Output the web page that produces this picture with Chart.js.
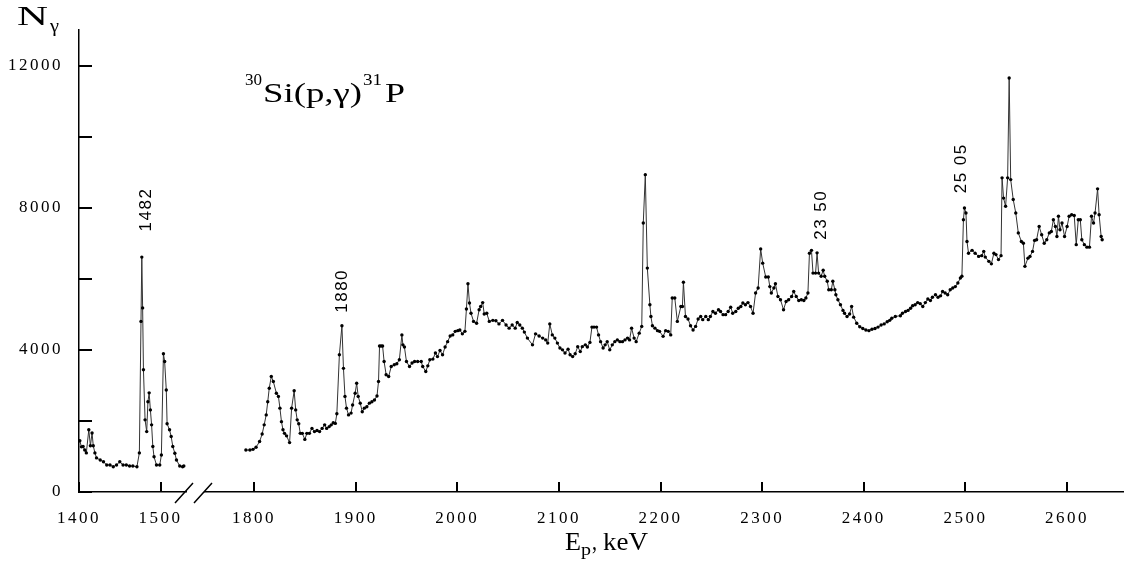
<!DOCTYPE html>
<html>
<head>
<meta charset="utf-8">
<script src="https://cdn.jsdelivr.net/npm/chart.js@4.4.1/dist/chart.umd.min.js"></script>
<style>
  html, body { margin: 0; padding: 0; background: #fff; }
  canvas { display: block; }
</style>
</head>
<body>
<canvas id="spectrum" width="1125" height="575"></canvas>
<script>
// proton energy (keV) and gamma counts, low-energy part before the axis break
const leftEnergy = [1401, 1403, 1405, 1407, 1409, 1412, 1414, 1416, 1417.5, 1419.5, 1421.5, 1426, 1430, 1434, 1438,
  1442, 1446, 1450, 1454, 1458, 1462, 1466, 1471, 1474, 1476, 1477, 1478, 1479, 1481, 1483, 1484.5, 1486, 1487.5,
  1489, 1490.5, 1492, 1495, 1499, 1501, 1503.5, 1505, 1507, 1508, 1511, 1513, 1515, 1517.5, 1519.5, 1523.5, 1527, 1528.5];
const leftCounts = [1440, 1270, 1280, 1180, 1100, 1750, 1300, 1660, 1300, 1100, 960, 900, 850, 760, 760,
  710, 760, 850, 760, 760, 730, 730, 710, 1100, 4800, 6610, 5180, 3440, 2030, 1700, 2540, 2790, 2310,
  1890, 1280, 990, 760, 760, 1040, 3890, 3670, 2870, 1920, 1750, 1560, 1280, 1090, 900, 730, 710, 730];

// high-energy part after the break
const rightEnergy = [1792, 1796, 1799, 1802, 1805.5, 1808, 1810, 1812, 1813.5, 1815, 1817, 1819, 1822, 1824, 1825.5,
  1827, 1828.5, 1830, 1832, 1835, 1837, 1839.5, 1841, 1842.5, 1844, 1845.5, 1847.5, 1850, 1852, 1854.5, 1857,
  1859.5, 1862, 1864.5, 1867, 1869.5, 1871.5, 1874, 1876, 1878, 1880, 1881.5, 1884, 1886.5, 1888, 1889.5, 1891,
  1893, 1895.5, 1897, 1899.5, 1901, 1902.5, 1904.5, 1906.5, 1908.5, 1911, 1913.5, 1916, 1918.5, 1921, 1922.5,
  1923.5, 1925, 1926.5, 1928, 1930, 1932.5, 1935, 1938, 1940.5, 1943, 1945.5, 1946.5, 1948, 1950, 1953, 1955.5,
  1958, 1961, 1964.5, 1966, 1969, 1971, 1973, 1976, 1978.5, 1980.5, 1983, 1985.5, 1988, 1990.5, 1993, 1995.5,
  1998, 2000.5, 2002.5, 2005, 2007.5, 2009, 2010.5, 2012, 2013.5, 2016, 2019, 2021.5, 2023, 2025, 2026.5, 2029,
  2031.5, 2035, 2038, 2041, 2044.5, 2048, 2051, 2054, 2057, 2059, 2061.5, 2064, 2066, 2069, 2074, 2077, 2080.5,
  2084, 2087, 2089, 2091, 2093.5, 2096, 2098.5, 2101, 2103.5, 2106, 2109, 2111, 2113.5, 2116, 2118.5, 2121, 2123,
  2126, 2128, 2130.5, 2132.5, 2134.5, 2137, 2139, 2141, 2143.5, 2145.5, 2147.5, 2150, 2152.5, 2155, 2157.5, 2160,
  2162.5, 2165, 2167.5, 2169.5, 2171.5, 2174, 2176, 2179, 2181.5, 2183, 2185, 2187, 2189.5, 2190.5, 2192, 2194.5,
  2197, 2199, 2202.5, 2205, 2207.5, 2210, 2211.5, 2214, 2216.5, 2220, 2221.5, 2222.5, 2224.5, 2227, 2229.5, 2232,
  2234.5, 2237, 2239.5, 2241.5, 2244.5, 2247, 2249, 2251.5, 2254, 2257, 2259, 2261.5, 2264, 2266.5, 2269, 2271,
  2274, 2276.5, 2279, 2281, 2283.5, 2286, 2288.5, 2291, 2293.5, 2296, 2298.5, 2300.5, 2303.5, 2306, 2307.5, 2309,
  2311.5, 2313, 2315.5, 2318, 2321, 2323.5, 2326, 2329, 2331, 2333.5, 2336, 2338.5, 2341, 2343, 2345, 2346.5,
  2348.5, 2350, 2352.5, 2354, 2355.5, 2358, 2360, 2361.5, 2364, 2365.5, 2368, 2369.5, 2371.5, 2372.5, 2374.5, 2377,
  2379.5, 2381, 2383.5, 2386, 2388, 2390, 2393, 2396, 2399, 2402, 2405, 2408, 2411, 2414, 2417, 2420, 2423, 2425.5,
  2427.5, 2431, 2436, 2438, 2441, 2443.5, 2446, 2448, 2450.5, 2453, 2455.5, 2458, 2460.5, 2463, 2465.5, 2467.5,
  2470.5, 2473, 2475.5, 2477.5, 2480, 2482.5, 2485, 2487.5, 2490, 2492.5, 2495, 2496.5, 2498, 2499, 2500.5,
  2501.5, 2503, 2506.5, 2509.5, 2513, 2516, 2518, 2519.5, 2523, 2525.5, 2528, 2530, 2532.5, 2535, 2536, 2537.5,
  2539.5, 2541.5, 2543, 2544.5, 2547, 2549.5, 2552, 2555, 2557, 2558.5, 2561.5, 2563.5, 2566, 2568, 2570, 2572.5,
  2575, 2577.5, 2580, 2582.5, 2584.5, 2586.5, 2588.5, 2590, 2591.5, 2593, 2595, 2597.5, 2600, 2602, 2604.5, 2607,
  2609, 2611, 2613, 2614.5, 2617, 2619.5, 2622, 2624, 2626, 2627.5, 2630, 2631.5, 2633.5, 2634.5];
const rightCounts = [1180, 1180, 1200, 1260, 1420, 1630, 1890, 2170, 2540, 2920, 3250, 3110, 2780, 2690, 2360,
  1980, 1750, 1650, 1580, 1390, 2360, 2850, 2310, 2030, 1920, 1650, 1650, 1480, 1650, 1650, 1790,
  1700, 1730, 1700, 1790, 1890, 1790, 1840, 1890, 1950, 1930, 2200, 3860, 4680, 3480, 2690, 2360,
  2170, 2220, 2450, 2780, 3060, 2690, 2500, 2260, 2360, 2400, 2500, 2540, 2590, 2700, 3110,
  4110, 4110, 4110, 3670, 3300, 3250, 3530, 3580, 3610, 3720, 4420, 4140, 4080, 3670, 3530, 3630,
  3670, 3670, 3670, 3530, 3390, 3550, 3720, 3740, 3910, 3810, 3980, 3860, 4080, 4230, 4390, 4420,
  4520, 4540, 4560, 4450, 4520, 5150, 5860, 5320, 5030, 4800, 4750, 5130, 5220, 5330, 5010, 5030,
  4800, 4830, 4820, 4730, 4830, 4700, 4610, 4700, 4610, 4770, 4700, 4610, 4500, 4330, 4140, 4450, 4390,
  4330, 4280, 4190, 4730, 4420, 4330, 4190, 4050, 4000, 3910, 4020, 3860, 3810, 3890, 4090, 3950, 4090,
  4140, 4080, 4210, 4640, 4640, 4640, 4420, 4230, 4050, 4140, 4230, 4000, 4140, 4230, 4280, 4230,
  4230, 4280, 4330, 4280, 4610, 4330, 4230, 4470, 4660, 7570, 8930, 6300, 5270, 4940, 4680, 4610,
  4540, 4520, 4380, 4540, 4520, 4420, 5460, 5460, 4800, 5220, 5220, 5900, 4940, 4870, 4680, 4560,
  4660, 4870, 4940, 4850, 4940, 4850, 4940, 5080, 5030, 5130, 5080, 4990, 4990, 5080, 5200, 5030,
  5080, 5170, 5220, 5320, 5270, 5330, 5220, 5030, 5600, 5740, 6840, 6440, 6050, 6050, 5780, 5600,
  5740, 5860, 5500, 5410, 5130, 5360, 5410, 5500, 5640, 5500, 5390, 5410, 5390, 5460, 5600, 6720,
  6800, 6160, 6160, 6730, 6160, 6070, 6240, 6070, 5930, 5690, 5690, 5930, 5690, 5550, 5410, 5270,
  5110, 5030, 4940, 5010, 5220, 4920, 4750, 4650, 4600, 4560, 4540, 4580, 4600, 4640, 4700, 4730, 4790, 4830,
  4890, 4940, 4960, 5030, 5080, 5110, 5170, 5240, 5270, 5330, 5300, 5220, 5330, 5430, 5390, 5480,
  5550, 5480, 5520, 5640, 5600, 5550, 5690, 5740, 5780, 5880, 6020, 6070, 7660, 7990, 7850,
  7050, 6720, 6800, 6720, 6630, 6650, 6770, 6610, 6490, 6420, 6720, 6680, 6540, 6650, 8840, 8270,
  8040, 8840, 11650, 8790, 8230, 7850, 7290, 7050, 7000, 6350, 6580, 6630, 6770, 7080, 7100, 7470,
  7240, 7000, 7100, 7290, 7330, 7660, 7470, 7190, 7760, 7380, 7570, 7190, 7470, 7760, 7800, 7780,
  6960, 7660, 7660, 7100, 6960, 6890, 6890, 7760, 7570, 7850, 8530, 7800, 7190, 7100];

const xTickValues = [1400, 1500, 1800, 1900, 2000, 2100, 2200, 2300, 2400, 2500, 2600];
const yTickValues = [0, 2000, 4000, 6000, 8000, 10000, 12000];
const yLabelStep = 4000;

// resonance labels: text, energy, count level of the label centre
const peakNames = ['1482', '1880', '23 50', '25 05'];
const peakEnergy = [1482, 1887, 2358, 2496];
const peakLevel = [7950, 5660, 7800, 9110];

// the energy axis is broken: the part below 1600 keV is compressed and shifted left
const BREAK_AT = 1600;
function axisPos(e) {
  return e < BREAK_AT ? 1627.8 + (e - 1400) * 0.8026 : e;
}

const SERIF = '"Liberation Serif", "Times New Roman", serif';
const SANS = '"Liberation Sans", Arial, sans-serif';

function toPoints(xs, ys) {
  return xs.map((e, i) => ({ x: axisPos(e), y: ys[i] }));
}

const lineStyle = {
  borderColor: '#333',
  borderWidth: 1,
  pointRadius: 1.7,
  pointBackgroundColor: '#000',
  pointBorderWidth: 0,
  pointHoverRadius: 1.7,
  tension: 0,
  fill: false,
};

// draws text squeezed or stretched to a given width
function fitText(ctx, text, x, y, font, width) {
  ctx.save();
  ctx.font = font;
  const w = ctx.measureText(text).width;
  ctx.translate(x, y);
  ctx.scale(width / w, 1);
  ctx.fillText(text, 0, 0);
  ctx.restore();
}

const decorations = {
  id: 'decorations',
  beforeDraw(chart) {
    chart.ctx.letterSpacing = '2.5px';
  },
  afterDraw(chart) {
    const ctx = chart.ctx;
    const xs = chart.scales.x;
    const ys = chart.scales.y;
    const area = chart.chartArea;
    ctx.save();
    ctx.letterSpacing = '0px';
    ctx.fillStyle = '#000';

    // inward tick marks
    xTickValues.forEach((e) => {
      const px = Math.round(xs.getPixelForValue(axisPos(e)));
      ctx.fillRect(px - 1, area.bottom - 10, 2, 10);
    });
    yTickValues.forEach((v) => {
      const py = Math.round(ys.getPixelForValue(v));
      ctx.fillRect(area.left, py - 1, 13, 2);
    });

    // axis break
    ctx.fillStyle = '#fff';
    ctx.fillRect(187, area.bottom - 4, 17, 8);
    ctx.fillStyle = '#000';
    ctx.strokeStyle = '#000';
    ctx.lineWidth = 1.5;
    ctx.beginPath();
    ctx.moveTo(175, area.bottom + 11);
    ctx.lineTo(193, area.bottom - 9);
    ctx.moveTo(194, area.bottom + 11);
    ctx.lineTo(212, area.bottom - 9);
    ctx.stroke();

    // peak labels, rotated
    ctx.font = '17px ' + SANS;
    ctx.letterSpacing = '1.5px';
    ctx.textAlign = 'center';
    ctx.textBaseline = 'middle';
    peakNames.forEach((t, i) => {
      ctx.save();
      ctx.translate(xs.getPixelForValue(axisPos(peakEnergy[i])), ys.getPixelForValue(peakLevel[i]));
      ctx.rotate(-Math.PI / 2);
      ctx.fillText(t, 0, 0);
      ctx.restore();
    });
    ctx.letterSpacing = '0px';
    ctx.textAlign = 'left';
    ctx.textBaseline = 'alphabetic';

    // axis titles
    fitText(ctx, 'N', 17, 25, '27px ' + SERIF, 31);
    fitText(ctx, 'γ', 50, 32, '18px ' + SERIF, 9);
    fitText(ctx, 'E', 565, 550, '25px ' + SERIF, 16);
    fitText(ctx, 'p', 581, 555, '17px ' + SERIF, 10);
    fitText(ctx, ',', 592, 550, '25px ' + SERIF, 5);
    fitText(ctx, 'keV', 603, 550, '25px ' + SERIF, 45);

    // reaction
    fitText(ctx, '30', 245, 85, '17px ' + SERIF, 17);
    fitText(ctx, 'Si(p,γ)', 263, 102, '28px ' + SERIF, 99);
    fitText(ctx, '31', 363, 85, '17px ' + SERIF, 19);
    fitText(ctx, 'P', 385, 102, '28px ' + SERIF, 20);
    ctx.restore();
  },
};

new Chart(document.getElementById('spectrum'), {
  type: 'line',
  data: {
    datasets: [
      { data: toPoints(leftEnergy, leftCounts), ...lineStyle },
      { data: toPoints(rightEnergy, rightCounts), ...lineStyle },
    ],
  },
  options: {
    responsive: false,
    devicePixelRatio: 1,
    animation: false,
    layout: { padding: { top: 30, right: 0, left: 0, bottom: 0 } },
    plugins: { legend: { display: false }, tooltip: { enabled: false } },
    scales: {
      x: {
        type: 'linear',
        min: axisPos(1400),
        max: 2655.3,
        grid: { display: false },
        border: { display: true, color: '#000', width: 1.5 },
        ticks: {
          autoSkip: false,
          maxRotation: 0,
          padding: 8,
          color: '#000',
          font: { family: SERIF, size: 17 },
          callback: (v, i) => String(xTickValues[i]),
        },
        afterBuildTicks: (s) => {
          s.ticks = xTickValues.map((e) => ({ value: axisPos(e) }));
        },
        afterFit: (s) => { s.height = 83; },
      },
      y: {
        min: 0,
        max: 13000,
        grid: { display: false },
        border: { display: true, color: '#000', width: 1.5 },
        ticks: {
          padding: 8,
          color: '#000',
          font: { family: SERIF, size: 17 },
          callback: (v) => (v % yLabelStep === 0 ? String(v) : ''),
        },
        afterBuildTicks: (s) => {
          s.ticks = yTickValues.map((v) => ({ value: v }));
        },
        afterFit: (s) => { s.width = 79; },
      },
    },
  },
  plugins: [decorations],
});
</script>
</body>
</html>
